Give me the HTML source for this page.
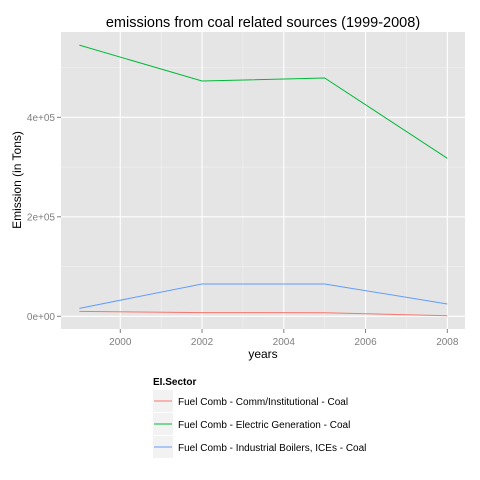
<!DOCTYPE html>
<html><head><meta charset="utf-8"><style>body{margin:0;background:#fff}svg{display:block;font-family:"Liberation Sans",Arial,sans-serif}</style></head>
<body>
<svg id="chart" width="480" height="480" xmlns="http://www.w3.org/2000/svg">
<text x="263" y="27" text-anchor="middle" font-size="14.5" fill="#000">emissions from coal related sources (1999-2008)</text>
<rect x="61" y="32" width="404" height="297" fill="#e5e5e5"/>
<g id="grid"></g>
<g id="series"></g>
<g id="axes"></g>
<text x="263" y="358" text-anchor="middle" font-size="12">years</text>
<text transform="translate(21,180) rotate(-90)" text-anchor="middle" font-size="12">Emission (in Tons)</text>
<g>
<text x="153" y="385" font-size="10" font-weight="bold">EI.Sector</text>
<g id="legend"></g>
</g>
</svg>
<script>
const years=[1999,2002,2005,2008];
const seriesNames=["Fuel Comb - Comm/Institutional - Coal","Fuel Comb - Electric Generation - Coal","Fuel Comb - Industrial Boilers, ICEs - Coal"];
const commValues=[10000,7400,7200,1200];
const electricValues=[545000,473000,479000,317600];
const industrialValues=[16000,65000,65000,24700];
const xTicks=[2000,2002,2004,2006,2008];
const yTicks=[0,200000,400000];
const yTickLabels=["0e+00","2e+05","4e+05"];
const colors=["#f8766d","#00ba38","#619cff"];
const NS="http://www.w3.org/2000/svg";
const x=v=>79.4+(v-1999)*40.88;
const y=v=>316.3-v/200000*99.5;
function mk(tag,attrs,parent){const e=document.createElementNS(NS,tag);for(const k in attrs)e.setAttribute(k,attrs[k]);parent.appendChild(e);return e;}
const grid=document.getElementById('grid'),axes=document.getElementById('axes'),ser=document.getElementById('series'),leg=document.getElementById('legend');
// minor grid
for(let i=0;i<xTicks.length-1;i++){const xv=(xTicks[i]+xTicks[i+1])/2;const l=mk('line',{x1:x(xv),x2:x(xv),y1:32,y2:329,stroke:'#f2f2f2','stroke-width':0.6},grid);}
for(let i=0;i<yTicks.length;i++){const yv=yTicks[i]+100000;const l=mk('line',{x1:61,x2:465,y1:y(yv),y2:y(yv),stroke:'#f2f2f2','stroke-width':0.6},grid);}
xTicks.forEach(t=>{const l=mk('line',{x1:x(t),x2:x(t),y1:32,y2:329,stroke:'#fff','stroke-width':1.1},grid);
const k=mk('line',{x1:x(t),x2:x(t),y1:329,y2:333,stroke:'#7f7f7f'},axes);
const tx=mk('text',{x:x(t),y:345,'text-anchor':'middle','font-size':10,fill:'#7f7f7f'},axes);tx.textContent=t;});
yTicks.forEach((t,i)=>{const l=mk('line',{x1:61,x2:465,y1:y(t),y2:y(t),stroke:'#fff','stroke-width':1.1},grid);
const k=mk('line',{x1:57,x2:61,y1:y(t),y2:y(t),stroke:'#7f7f7f'},axes);
const tx=mk('text',{x:55,y:y(t)+3.5,'text-anchor':'end','font-size':10,fill:'#7f7f7f'},axes);tx.textContent=yTickLabels[i];});
[commValues,electricValues,industrialValues].forEach((vals,i)=>{
const p=mk('polyline',{points:vals.map((v,j)=>x(years[j])+','+y(v)).join(' '),fill:'none',stroke:colors[i],'stroke-width':1},ser);


const r=mk('rect',{x:153,y:390+i*23,width:20,height:22,fill:'#f2f2f2'},leg);


mk('line',{x1:154,x2:172,y1:401+i*23,y2:401+i*23,stroke:colors[i]},leg);
const t=mk('text',{x:178,y:405+i*23,'font-size':10},leg);t.textContent=seriesNames[i];


});
</script>
</body></html>
